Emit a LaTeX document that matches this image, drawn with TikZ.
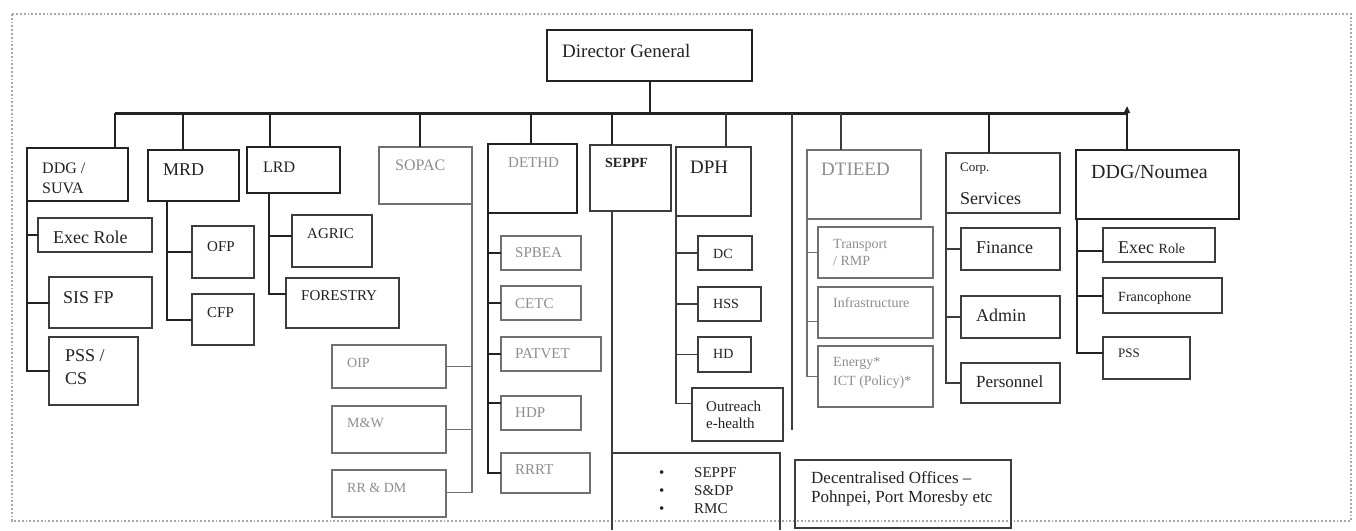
\documentclass[tikz,border=0pt]{standalone}
\usepackage{fontspec}
\setmainfont{Liberation Serif}
\usetikzlibrary{arrows.meta}
\definecolor{ink}{HTML}{222222}
\definecolor{edgec}{HTML}{3C3C3C}
\definecolor{gedge}{HTML}{707070}
\definecolor{gtext}{HTML}{8E8E8E}
\definecolor{framec}{HTML}{A8A8A8}
\newcommand\bx[6]{\node[#6, minimum width={(#4-#2)*1pt}, minimum height={(#5-#3)*1pt}] (#1) at (#2,#3) {};}
\newcommand\tx[5]{\node[txt,#4] (#1) at (#2,#3) {#5};}
\begin{document}
\begin{tikzpicture}[x=1pt,y=-1pt,
  boxbase/.style={anchor=north west, inner sep=0pt, outer sep=0pt, shape=rectangle},
  thickbox/.style={boxbase, draw=ink, line width=2.2pt},
  thinbox/.style={boxbase, draw=edgec, line width=1.3pt},
  graybox/.style={boxbase, draw=gedge, line width=1.2pt},
  openbox/.style={boxbase, draw=none},
  txt/.style={anchor=base west, inner sep=0pt, text=ink},
  gtxt/.style={text=gtext},
  f13/.style={font=\fontsize{13}{15}\selectfont},
  f14/.style={font=\fontsize{14}{16}\selectfont},
  f14b/.style={font=\fontsize{14}{16}\selectfont\bfseries},
  f15/.style={font=\fontsize{15}{17}\selectfont},
  f16/.style={font=\fontsize{16}{18}\selectfont},
  f17/.style={font=\fontsize{17}{19}\selectfont},
  f18/.style={font=\fontsize{18}{20}\selectfont},
  f19/.style={font=\fontsize{19}{21}\selectfont},
  f20/.style={font=\fontsize{20}{22}\selectfont},
  busline/.style={draw=ink, line width=3pt},
  drop/.style={draw=ink, line width=2pt},
  gdrop/.style={draw=edgec, line width=1.4pt},
  spine/.style={draw=ink, line width=2pt},
  lnthin/.style={draw=edgec, line width=1.2pt},
  glnthin/.style={draw=gedge, line width=1.2pt},
]
\useasboundingbox (0,0) rectangle (1356,530);
\fill[white] (0,0) rectangle (1356,530);
\draw[framec, dotted, line width=1.8pt] (12,14) rectangle (1351,521);

% top level boxes
\bx{dg}{547}{30}{752}{81}{thickbox}
\bx{suva}{27}{148}{128}{201}{thickbox}
\bx{mrd}{148}{150}{239}{201}{thickbox}
\bx{lrd}{247}{147}{340}{193}{thickbox}
\bx{sopac}{379}{147}{472}{204}{graybox}
\bx{dethd}{488}{144}{577}{213}{thickbox}
\bx{seppf}{590}{145}{671}{211}{thinbox}
\bx{dph}{676}{147}{751}{216}{thinbox}
\bx{dtieed}{807}{150}{921}{219}{graybox}
\bx{corp}{946}{153}{1060}{213}{thinbox}
\bx{noumea}{1076}{150}{1239}{219}{thickbox}

% children
\bx{exec1}{38}{218}{152}{252}{thinbox}
\bx{sisfp}{49}{277}{152}{328}{thinbox}
\bx{psscs}{49}{337}{138}{405}{thinbox}
\bx{ofp}{192}{226}{254}{278}{thinbox}
\bx{cfp}{192}{294}{254}{345}{thinbox}
\bx{agric}{292}{215}{372}{267}{thinbox}
\bx{forestry}{286}{278}{399}{328}{thinbox}
\bx{oip}{332}{345}{446}{388}{graybox}
\bx{mw}{332}{406}{446}{453}{graybox}
\bx{rrdm}{332}{470}{446}{517}{graybox}
\bx{spbea}{501}{236}{581}{270}{graybox}
\bx{cetc}{501}{286}{581}{320}{graybox}
\bx{patvet}{501}{337}{601}{371}{graybox}
\bx{hdp}{501}{396}{581}{430}{graybox}
\bx{rrrt}{501}{453}{590}{493}{graybox}
\bx{dc}{698}{236}{752}{270}{thinbox}
\bx{hss}{698}{287}{761}{321}{thinbox}
\bx{hd}{698}{337}{751}{372}{thinbox}
\bx{outreach}{692}{388}{783}{441}{thinbox}
\bx{transport}{818}{227}{933}{278}{graybox}
\bx{infra}{818}{287}{933}{338}{graybox}
\bx{energy}{818}{346}{933}{407}{graybox}
\bx{finance}{961}{228}{1060}{270}{thinbox}
\bx{admin}{961}{296}{1060}{338}{thinbox}
\bx{personnel}{961}{363}{1060}{403}{thinbox}
\bx{exec2}{1103}{228}{1215}{262}{thinbox}
\bx{franco}{1103}{278}{1222}{313}{thinbox}
\bx{pss2}{1103}{337}{1190}{379}{thinbox}
\bx{bullets}{612}{453}{780}{530}{openbox}
\bx{decent}{795}{460}{1011}{528}{thinbox}
\draw[lnthin] (bullets.south west) -- (bullets.north west) -- (bullets.north east) -- (bullets.south east);

% labels
\tx{dg-t}{562}{57}{f19}{Director General}
\tx{suva-t1}{42}{173}{f16}{DDG /}
\tx{suva-t2}{42}{193}{f16}{SUVA}
\tx{mrd-t}{163}{175}{f18}{MRD}
\tx{lrd-t}{263}{172}{f16}{LRD}
\tx{sopac-t}{395}{170}{f16,gtxt}{SOPAC}
\tx{dethd-t}{508}{167}{f15,gtxt}{DETHD}
\tx{seppf-t}{605}{167}{f14b}{SEPPF}
\tx{dph-t}{690}{173}{f19}{DPH}
\tx{dtieed-t}{821}{175}{f19,gtxt}{DTIEED}
\tx{corp-t1}{960}{171}{f13}{Corp.}
\tx{corp-t2}{960}{204}{f18}{Services}
\tx{noumea-t}{1091}{178}{f20}{DDG/Noumea}

\tx{exec1-t}{53}{243}{f18}{Exec Role}
\tx{sisfp-t}{63}{303}{f18}{SIS FP}
\tx{psscs-t1}{65}{361}{f18}{PSS /}
\tx{psscs-t2}{65}{384}{f18}{CS}
\tx{ofp-t}{207}{251}{f15}{OFP}
\tx{cfp-t}{207}{317}{f15}{CFP}
\tx{agric-t}{307}{238}{f15}{AGRIC}
\tx{forestry-t}{301}{300}{f15}{FORESTRY}
\tx{oip-t}{347}{367}{f14,gtxt}{OIP}
\tx{mw-t}{347}{427}{f14,gtxt}{M\&W}
\tx{rrdm-t}{347}{492}{f14,gtxt}{RR \& DM}
\tx{spbea-t}{515}{257}{f15,gtxt}{SPBEA}
\tx{cetc-t}{515}{308}{f15,gtxt}{CETC}
\tx{patvet-t}{515}{358}{f15,gtxt}{PATVET}
\tx{hdp-t}{515}{417}{f15,gtxt}{HDP}
\tx{rrrt-t}{515}{474}{f15,gtxt}{RRRT}
\tx{dc-t}{713}{258}{f14}{DC}
\tx{hss-t}{713}{308}{f14}{HSS}
\tx{hd-t}{713}{358}{f14}{HD}
\tx{outreach-t1}{706}{411}{f15}{Outreach}
\tx{outreach-t2}{706}{428}{f15}{e-health}
\tx{transport-t1}{833}{248}{f14,gtxt}{Transport}
\tx{transport-t2}{833}{265}{f14,gtxt}{/ RMP}
\tx{infra-t}{833}{307}{f14,gtxt}{Infrastructure}
\tx{energy-t1}{833}{366}{f14,gtxt}{Energy*}
\tx{energy-t2}{833}{385}{f14,gtxt}{ICT (Policy)*}
\tx{finance-t}{976}{253}{f18}{Finance}
\tx{admin-t}{976}{321}{f18}{Admin}
\tx{personnel-t}{976}{387}{f17}{Personnel}
\tx{exec2-t}{1118}{253}{f18}{Exec {\fontsize{14}{16}\selectfont Role}}
\tx{franco-t}{1118}{301}{f14}{Francophone}
\tx{pss2-t}{1118}{357}{f13}{PSS}
\tx{bd1}{659}{477}{f15}{\textbullet}
\tx{bd2}{659}{495}{f15}{\textbullet}
\tx{bd3}{659}{513}{f15}{\textbullet}
\tx{bl1}{694}{477}{f15}{SEPPF}
\tx{bl2}{694}{495}{f15}{S\&DP}
\tx{bl3}{694}{513}{f15}{RMC}
\tx{dec-t1}{811}{483}{f17}{Decentralised Offices –}
\tx{dec-t2}{811}{502}{f17}{Pohnpei, Port Moresby etc}

% bus and drops
\coordinate (b1) at (115,113);
\coordinate (b2) at (183,113);
\coordinate (b3) at (270,113);
\coordinate (b4) at (420,113);
\coordinate (b5) at (531,113);
\coordinate (b6) at (612,113);
\coordinate (b7) at (726,113);
\coordinate (b8) at (792,113);
\coordinate (b9) at (841,113);
\coordinate (b10) at (989,113);
\coordinate (b11) at (1127,113);
\coordinate (f8) at (792,430);
\draw[drop] (dg.south) -- (dg.south |- b1);
\draw[busline] (b1) -- (b11);
\draw[drop] (b1) -- (b1 |- suva.north);
\draw[drop] (b2) -- (b2 |- mrd.north);
\draw[drop] (b3) -- (b3 |- lrd.north);
\draw[drop] (b4) -- (b4 |- sopac.north);
\draw[drop] (b5) -- (b5 |- dethd.north);
\draw[drop] (b6) -- (b6 |- seppf.north);
\draw[gdrop] (b7) -- (b7 |- dph.north);
\draw[gdrop] (b8) -- (f8);
\draw[gdrop] (b9) -- (b9 |- dtieed.north);
\draw[drop] (b10) -- (b10 |- corp.north);
\draw[drop, -{Triangle[length=7pt,width=6pt]}] (b11 |- noumea.north) -- ([yshift=7pt]b11);

% spines
\draw[spine] (suva.south west) |- (psscs.west);
\draw[spine] (suva.south west |- exec1.west) -- (exec1.west);
\draw[spine] (suva.south west |- sisfp.west) -- (sisfp.west);

\coordinate (mrd-s) at ([xshift=19pt]mrd.south west);
\draw[spine] (mrd-s) |- (cfp.west);
\draw[spine] (mrd-s |- ofp.west) -- (ofp.west);

\coordinate (lrd-s) at ([xshift=22pt]lrd.south west);
\draw[spine] (lrd-s) |- ([yshift=9pt]forestry.west);
\draw[spine] (lrd-s |- agric.west) ++(0,-5) -- ([yshift=5pt]agric.west);

\draw[glnthin] (sopac.south east) |- ([yshift=1pt]rrdm.east);
\draw[glnthin] (sopac.south east |- oip.east) -- (oip.east);
\draw[glnthin] (sopac.south east |- mw.east) -- (mw.east);

\draw[spine] (dethd.south west) |- (rrrt.west);
\draw[spine] (dethd.south west |- spbea.west) -- (spbea.west);
\draw[spine] (dethd.south west |- cetc.west) -- (cetc.west);
\draw[spine] (dethd.south west |- patvet.west) -- (patvet.west);
\draw[spine] (dethd.south west |- hdp.west) ++(0,-10) -- ([yshift=10pt]hdp.west);

\coordinate (seppf-s) at ([xshift=22pt]seppf.south west);
\draw[lnthin] (seppf-s) -- (bullets.north west);

\draw[lnthin] (dph.south west) |- ([yshift=11pt]outreach.west);
\draw[lnthin] (dph.south west |- dc.west) -- (dc.west);
\draw[lnthin] (dph.south west |- hss.west) -- (hss.west);
\draw[lnthin] (dph.south west |- hd.west) -- (hd.west);

\draw[glnthin] (dtieed.south west) |- (energy.west);
\draw[glnthin] (dtieed.south west |- transport.west) -- (transport.west);
\draw[glnthin] (dtieed.south west |- infra.west) ++(0,9) -- ([yshift=-9pt]infra.west);

\draw[lnthin] (corp.south west) |- (personnel.west);
\draw[lnthin] (corp.south west |- finance.west) -- (finance.west);
\draw[lnthin] (corp.south west |- admin.west) -- (admin.west);

\coordinate (nou-s) at ([xshift=1pt]noumea.south west);
\draw[spine] (nou-s) |- ([yshift=5pt]pss2.west);
\draw[spine] (nou-s |- exec2.west) ++(0,6) -- ([yshift=-6pt]exec2.west);
\draw[spine] (nou-s |- franco.west) -- (franco.west);
\end{tikzpicture}
\end{document}
